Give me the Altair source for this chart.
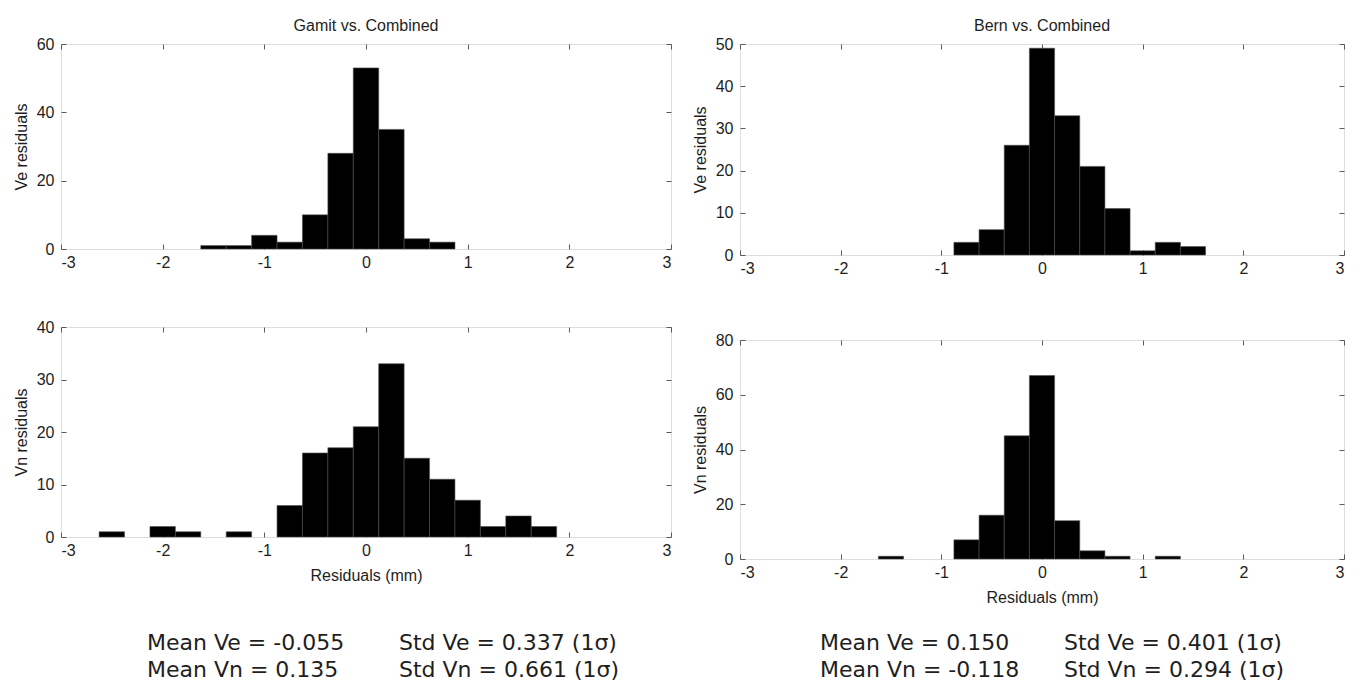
import altair as alt
import pandas as pd

# ---------------- data ----------------
BIN_W = 0.25  # histogram bin width in mm; bins are centred on the listed values

gamit_ve_centers = [-1.5, -1.25, -1.0, -0.75, -0.5, -0.25, 0.0, 0.25, 0.5, 0.75]
gamit_ve_counts = [1, 1, 4, 2, 10, 28, 53, 35, 3, 2]

bern_ve_centers = [-0.75, -0.5, -0.25, 0.0, 0.25, 0.5, 0.75, 1.0, 1.25, 1.5]
bern_ve_counts = [3, 6, 26, 49, 33, 21, 11, 1, 3, 2]

gamit_vn_centers = [-2.5, -2.0, -1.75, -1.25, -0.75, -0.5, -0.25, 0.0, 0.25,
                    0.5, 0.75, 1.0, 1.25, 1.5, 1.75]
gamit_vn_counts = [1, 2, 1, 1, 6, 16, 17, 21, 33, 15, 11, 7, 2, 4, 2]

bern_vn_centers = [-1.5, -0.75, -0.5, -0.25, 0.0, 0.25, 0.5, 0.75, 1.25]
bern_vn_counts = [1, 7, 16, 45, 67, 14, 3, 1, 1]

x_ticks = [-3, -2, -1, 0, 1, 2, 3]

panel_titles = ["Gamit vs. Combined", "Bern vs. Combined"]
y_titles = ["Ve residuals", "Vn residuals"]
x_title = "Residuals (mm)"

solutions = ["Gamit", "Bern"]
components = ["Ve", "Vn"]
means = {"Gamit": ["-0.055", "0.135"], "Bern": ["0.150", "-0.118"]}
stds = {"Gamit": ["0.337", "0.661"], "Bern": ["0.401", "0.294"]}

# ---------------- style ----------------
FONT = "Liberation Sans, Arial, sans-serif"
STAT_FONT = "DejaVu Sans, sans-serif"
FRAME = "#5a5a5a"
TEXT = "#1e1e1e"


def panel(centers, counts, ymax, ystep, ytitle, w, h, xtitle=None, title=None,
          title_offset=2):
    df = pd.DataFrame({"center": centers, "count": counts})
    xs = alt.Scale(domain=[-3, 3], nice=False, zero=False)
    ys = alt.Scale(domain=[0, ymax], nice=False, zero=True)
    yticks = list(range(0, ymax + 1, ystep))
    common = dict(domain=False, grid=False, tickSize=5, offset=-5,
                  tickColor=FRAME, tickWidth=1)
    base = alt.Chart(df).transform_calculate(
        lo=f"datum.center - {BIN_W / 2}", hi=f"datum.center + {BIN_W / 2}"
    )
    main = base.mark_bar(fill="black", stroke="#4d4d4d", strokeWidth=0.6).encode(
        x=alt.X("lo:Q", scale=xs,
                axis=alt.Axis(orient="bottom", values=x_ticks, labelPadding=5,
                              labelExpr="datum.value + ''",
                              labelFont=FONT, labelFontSize=16, labelColor=TEXT,
                              title=xtitle, titleFont=FONT, titleFontSize=16,
                              titleFontWeight="normal", titleColor=TEXT,
                              titlePadding=9, **common)),
        x2="hi:Q",
        y=alt.Y("count:Q", scale=ys,
                axis=alt.Axis(orient="left", values=yticks, labelPadding=7,
                              labelExpr="datum.value + ''",
                              labelFont=FONT, labelFontSize=16, labelColor=TEXT,
                              title=ytitle, titleFont=FONT, titleFontSize=16,
                              titleFontWeight="normal", titleColor=TEXT,
                              titlePadding=7, **common)),
        y2=alt.datum(0),
    )
    mirror = base.mark_bar(opacity=0).encode(
        x=alt.X("lo:Q", scale=xs,
                axis=alt.Axis(orient="top", values=x_ticks, labels=False,
                              title=None, **common)),
        x2="hi:Q",
        y=alt.Y("count:Q", scale=ys,
                axis=alt.Axis(orient="right", values=yticks, labels=False,
                              title=None, **common)),
        y2=alt.datum(0),
    )
    ch = alt.layer(main, mirror).resolve_scale(x="independent", y="independent")
    props = dict(width=w, height=h)
    if title:
        props["title"] = alt.Title(title, font=FONT, fontSize=16,
                                   fontWeight="normal", color=TEXT,
                                   offset=title_offset)
    return ch.properties(**props)


# statistics text block under both columns
rows = []
for sol in solutions:
    for i, comp in enumerate(components):
        rows.append({"slot": f"{sol}-Mean", "comp": comp,
                     "label": f"Mean {comp} = {means[sol][i]}"})
        rows.append({"slot": f"{sol}-Std", "comp": comp,
                     "label": f"Std {comp} = {stds[sol][i]} (1\u03c3)"})
stats_df = pd.DataFrame(rows)
slots = ["Gamit-Mean", "Gamit-Std", "Bern-Mean", "Bern-Std"]
slot_x = [86, 338, 759, 1003]

stats_base = alt.Chart(stats_df).mark_text(
    align="left", baseline="middle", font=STAT_FONT, fontSize=22, color=TEXT
).encode(
    y=alt.Y("comp:N", scale=alt.Scale(domain=components, range=[37, 64], padding=0),
            axis=None),
    text="label:N",
)
stats = alt.layer(*[
    stats_base.transform_filter(alt.datum.slot == s).encode(x=alt.value(px))
    for s, px in zip(slots, slot_x)
]).properties(width=1250, height=75, view=alt.ViewBackground(strokeOpacity=0))

tl = panel(gamit_ve_centers, gamit_ve_counts, 60, 20, y_titles[0], 610, 205,
           title=panel_titles[0])
bl = panel(gamit_vn_centers, gamit_vn_counts, 40, 10, y_titles[1], 610, 210,
           xtitle=x_title)
tr = panel(bern_ve_centers, bern_ve_counts, 50, 10, y_titles[0], 604, 211,
           title=panel_titles[1])
br = panel(bern_vn_centers, bern_vn_counts, 80, 20, y_titles[1], 604, 219,
           xtitle=x_title)

left = alt.vconcat(tl, bl, spacing=47)
right = alt.vconcat(tr, br, spacing=54)
top = alt.hconcat(left, right, spacing=19)

chart = alt.vconcat(top, stats, spacing=0).properties(
    padding={"left": 4, "top": 9, "right": 0, "bottom": 0}
).configure_view(stroke=FRAME, strokeWidth=1.2).configure(background="white")

chart.save("out.html", embed_options={"renderer": "svg", "actions": False})
